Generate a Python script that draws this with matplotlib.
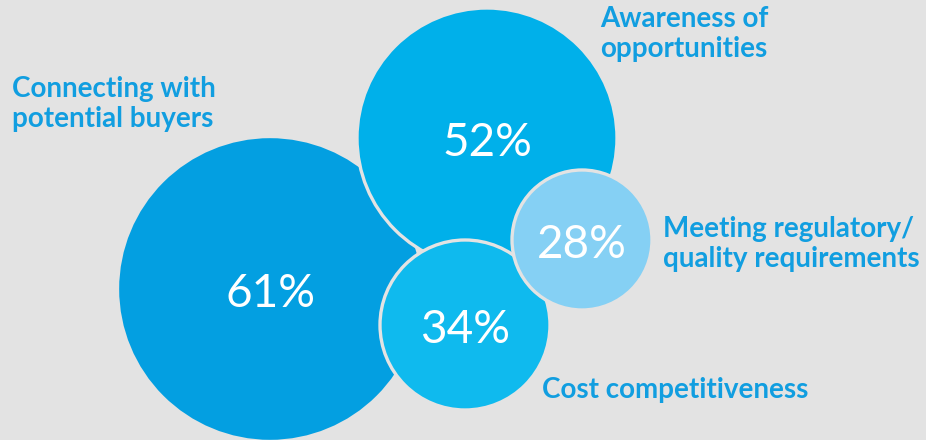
import matplotlib
matplotlib.use("Agg")
import matplotlib.pyplot as plt
from matplotlib.patches import Circle

# Share of respondents citing each factor (%)
factors = [
    "Connecting with\npotential buyers",
    "Awareness of\nopportunities",
    "Cost competitiveness",
    "Meeting regulatory/\nquality requirements",
]
shares = [61, 52, 34, 28]

# Bubble layout (pixel space), radius scales linearly with the share
centers = [(270, 289), (487, 138), (465, 325), (582, 240)]
px_per_point = 2.5
fills = ["#039fe1", "#00b0ea", "#0fbaee", "#85d0f4"]
# label anchors: left edge, baseline of the last line
label_pos = [(12, 127), (600, 57), (542, 398), (663, 267)]

bg = "#e3e3e3"
label_color = "#119ee0"

fig = plt.figure(figsize=(9.26, 4.40), dpi=100, facecolor=bg)
ax = fig.add_axes([0, 0, 1, 1])
ax.set_facecolor(bg)
ax.set_xlim(0, 926)
ax.set_ylim(440, 0)
ax.set_aspect("equal")
ax.axis("off")

for i, (val, (cx, cy), col) in enumerate(zip(shares, centers, fills)):
    ax.add_patch(Circle((cx, cy), val * px_per_point, facecolor=col,
                        edgecolor=bg, linewidth=2.4, zorder=2 + i))
    ax.text(cx, cy + 5, f"{val}%", ha="center", va="center",
            color="white", fontsize=33, family="Lato", fontweight="normal",
            zorder=10)

for name, (lx, ly) in zip(factors, label_pos):
    ax.text(lx, ly, name, ha="left", va="baseline", color=label_color,
            fontsize=20, family="Lato", fontweight="bold",
            linespacing=1.17, zorder=10)

fig.savefig("out.png", dpi=100, facecolor=bg)
